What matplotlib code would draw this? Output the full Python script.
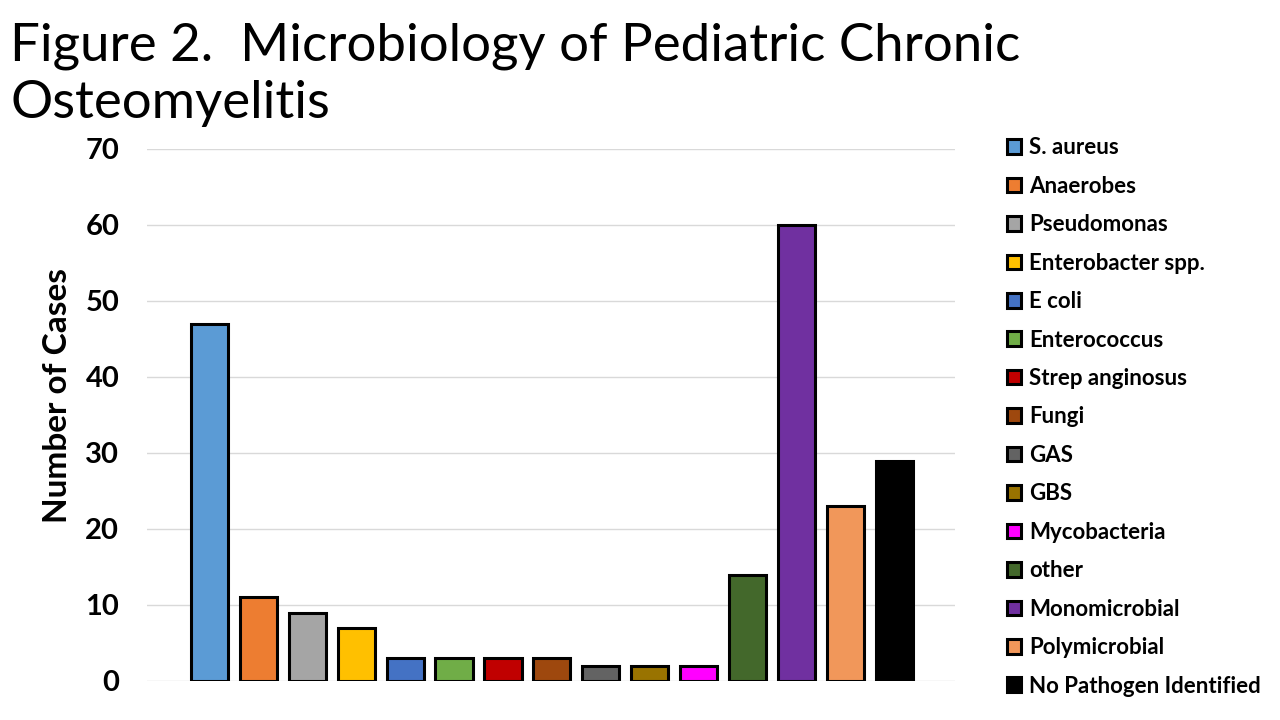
import matplotlib
matplotlib.use("Agg")
import matplotlib.pyplot as plt

# data
categories = ["S. aureus", "Anaerobes", "Pseudomonas", "Enterobacter spp.", "E coli",
              "Enterococcus", "Strep anginosus", "Fungi", "GAS", "GBS", "Mycobacteria",
              "other", "Monomicrobial", "Polymicrobial", "No Pathogen Identified"]
cases = [47, 11, 9, 7, 3, 3, 3, 3, 2, 2, 2, 14, 60, 23, 29]
colors = ["#5B9BD5", "#ED7D31", "#A5A5A5", "#FFC000", "#4472C4", "#70AD47", "#C00000",
          "#9E480E", "#636363", "#997300", "#FF00FF", "#43682B", "#7030A0", "#F1975A", "#000000"]
y_ticks = [0, 10, 20, 30, 40, 50, 60, 70]

plt.rcParams['font.family'] = ['Lato', 'DejaVu Sans']

fig = plt.figure(figsize=(12.8, 7.2), dpi=100)
ax = fig.add_axes([0.1148, 0.0542, 0.6312, 0.7389])

x = list(range(len(categories)))
bars = ax.bar(x, cases, width=0.76, color=colors, edgecolor='black', linewidth=2.2, zorder=3)

ax.set_xlim(-1.28, 15.24)
ax.set_ylim(0, 70)
ax.set_yticks(y_ticks)
ax.set_yticklabels([str(t) for t in y_ticks], fontsize=21, fontweight='bold')
ax.set_xticks([])
ax.tick_params(axis='y', length=0, pad=20)
ax.grid(axis='y', color='#d9d9d9', linewidth=1, zorder=0)
for s in ax.spines.values():
    s.set_visible(False)
ax.set_ylabel("Number of Cases", fontsize=24, fontweight='bold')
ax.yaxis.set_label_coords(-0.093, 0.536)

fig.text(0.008, 1 - 60 / 720, "Figure 2.  Microbiology of Pediatric Chronic",
         fontsize=38, va='baseline', ha='left')
fig.text(0.008, 1 - 118 / 720, "Osteomyelitis",
         fontsize=38, va='baseline', ha='left')

fig.legend(bars, categories, loc='upper left', bbox_to_anchor=(0.771, 0.837),
           frameon=False, prop={'size': 16, 'weight': 'bold'},
           handlelength=0.63, handleheight=0.63, handletextpad=0.36, labelspacing=0.785)

fig.savefig("out.png", dpi=100)
